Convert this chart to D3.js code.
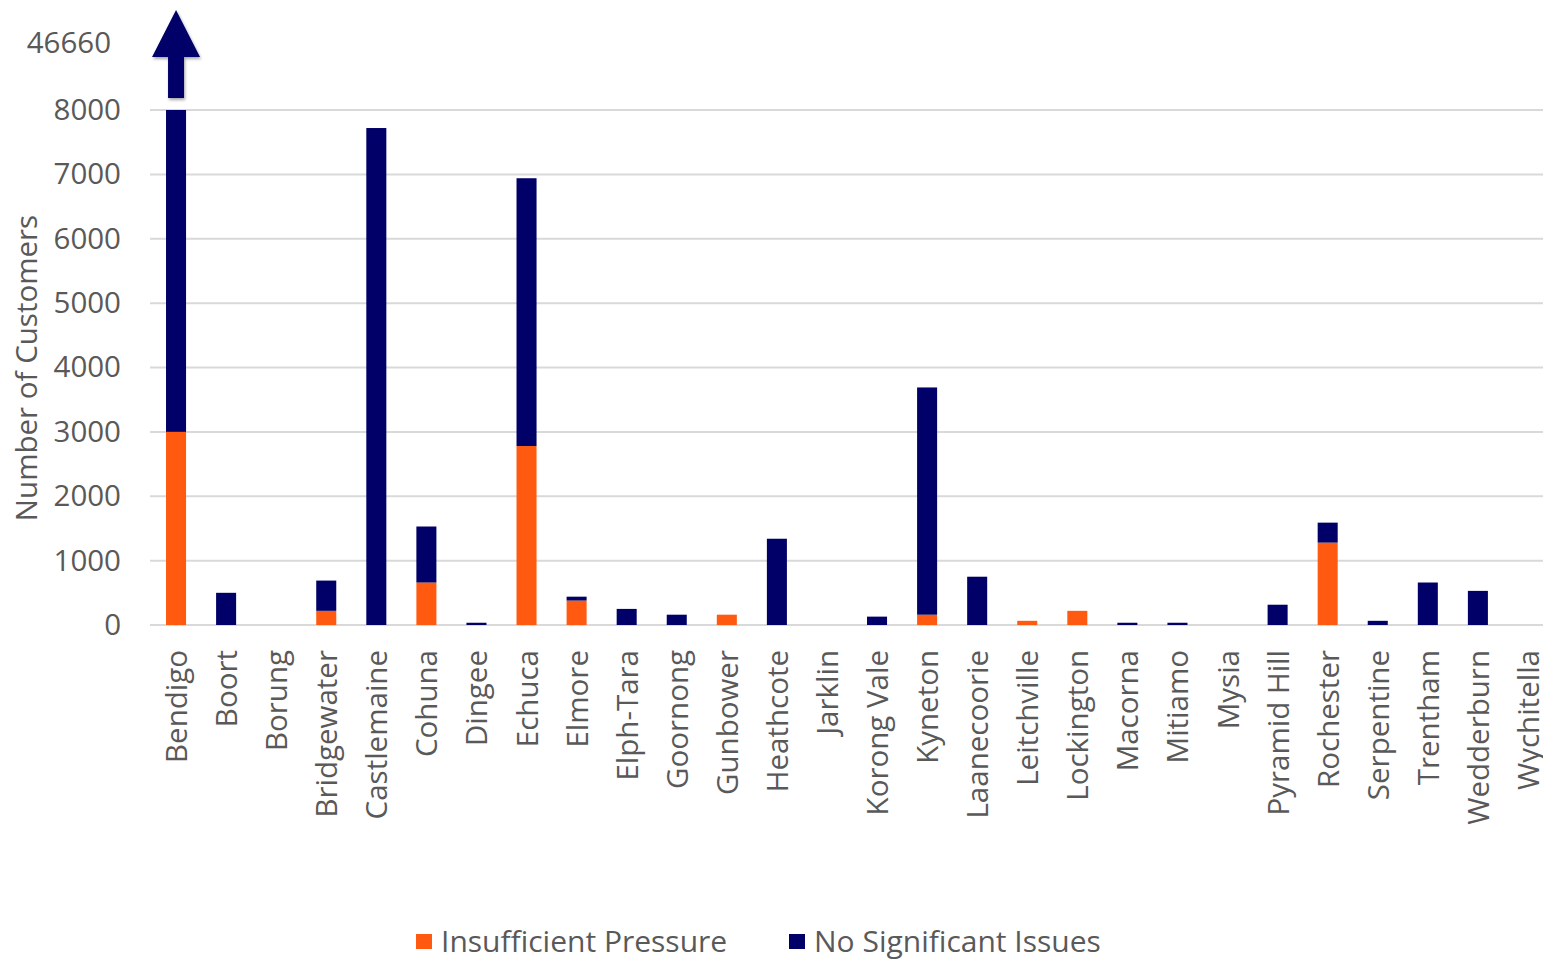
<!DOCTYPE html>
<html>
<head>
<meta charset="utf-8">
<script src="https://cdn.jsdelivr.net/npm/d3@7"></script>
<style>
  html, body { margin: 0; padding: 0; background: #fff; }
  svg { display: block; }
  text { font-family: "Open Sans", sans-serif; fill: #595959; }
</style>
</head>
<body>
<svg id="chart" width="1543" height="960"></svg>
<script>
// Towns served, in axis order
const towns = ["Bendigo","Boort","Borung","Bridgewater","Castlemaine","Cohuna","Dingee","Echuca","Elmore","Elph-Tara","Goornong","Gunbower","Heathcote","Jarklin","Korong Vale","Kyneton","Laanecoorie","Leitchville","Lockington","Macorna","Mitiamo","Mysia","Pyramid Hill","Rochester","Serpentine","Trentham","Wedderburn","Wychitella"];

// Customers with insufficient pressure, per town
const insufficientPressure = [3000,0,0,220,0,660,0,2780,380,0,0,160,0,0,0,160,0,65,220,0,0,0,0,1280,0,0,0,0];

// Customers with no significant issues, per town
const noSignificantIssues = [43660,500,0,470,7720,870,35,4160,60,250,160,0,1340,0,130,3530,750,0,0,35,35,0,315,310,65,660,530,0];

const yTicks = [0,1000,2000,3000,4000,5000,6000,7000,8000];
const seriesNames = ["Insufficient Pressure","No Significant Issues"];
const seriesColors = ["#FF5A10","#000068"];

const FONT = "29.5px";

const svg = d3.select("#chart");

const x = d3.scaleBand().domain(towns).range([151, 1553]).paddingInner(0.6).paddingOuter(0.3);
const y = d3.scaleLinear().domain([0, 8000]).range([625, 110]).clamp(true);

// Gridlines
svg.append("g")
  .selectAll("line")
  .data(yTicks)
  .join("line")
  .attr("x1", 150).attr("x2", 1543)
  .attr("y1", d => y(d)).attr("y2", d => y(d))
  .attr("stroke", "#d9d9d9").attr("stroke-width", 2);

// Y axis labels
const yAxis = svg.append("g")
  .attr("transform", "translate(121,0)")
  .call(d3.axisLeft(y).tickValues(yTicks).tickSize(0).tickPadding(0).tickFormat(d3.format("d")));
yAxis.select(".domain").remove();
yAxis.selectAll("text")
  .style("font-family", "Open Sans, sans-serif")
  .style("font-size", FONT)
  .attr("fill", "#595959");

// Stacked bars
const rows = towns.map((t, i) => ({ town: t, a: insufficientPressure[i], b: noSignificantIssues[i] }));
const stack = d3.stack().keys(["a", "b"])(rows);

svg.append("g")
  .selectAll("g")
  .data(stack)
  .join("g")
  .attr("fill", (d, i) => seriesColors[i])
  .selectAll("rect")
  .data(d => d.map(p => ({ p, town: p.data.town })))
  .join("rect")
  .attr("x", d => x(d.town))
  .attr("width", x.bandwidth())
  .attr("y", d => y(d.p[1]))
  .attr("height", d => Math.max(0, y(d.p[0]) - y(d.p[1])));

// Off-scale marker for the tallest town
const bigIdx = 0;
const bigTotal = insufficientPressure[bigIdx] + noSignificantIssues[bigIdx];
const cx = x(towns[bigIdx]) + x.bandwidth() / 2;

const defs = svg.append("defs");
const shadow = defs.append("filter").attr("id", "shadow").attr("x", "-50%").attr("y", "-50%").attr("width", "200%").attr("height", "200%");
shadow.append("feDropShadow").attr("dx", 1).attr("dy", 2).attr("stdDeviation", 1.5).attr("flood-color", "#000").attr("flood-opacity", 0.35);

const arrowPath = d3.path();
arrowPath.moveTo(cx - 8, 98);
arrowPath.lineTo(cx - 8, 57);
arrowPath.lineTo(cx - 24, 57);
arrowPath.lineTo(cx, 10);
arrowPath.lineTo(cx + 24, 57);
arrowPath.lineTo(cx + 8, 57);
arrowPath.lineTo(cx + 8, 98);
arrowPath.closePath();
svg.append("path").attr("d", arrowPath.toString()).attr("fill", seriesColors[1]).attr("filter", "url(#shadow)");

svg.append("text")
  .attr("x", 111).attr("y", 53)
  .attr("text-anchor", "end")
  .style("font-size", FONT)
  .text(bigTotal);

// Category labels
svg.append("g")
  .selectAll("text")
  .data(towns)
  .join("text")
  .attr("transform", d => `translate(${x(d) + x.bandwidth() / 2 + 11},650) rotate(-90)`)
  .attr("text-anchor", "end")
  .style("font-size", FONT)
  .text(d => d);

// Y axis title
svg.append("text")
  .attr("transform", "translate(37,368) rotate(-90)")
  .attr("text-anchor", "middle")
  .style("font-size", FONT)
  .text("Number of Customers");

// Legend
const legend = svg.append("g");
const legendX = [416, 789];
seriesNames.forEach((name, i) => {
  legend.append("rect").attr("x", legendX[i]).attr("y", 934).attr("width", 16).attr("height", 15).attr("fill", seriesColors[i]);
  legend.append("text").attr("x", legendX[i] + 25).attr("y", 952).style("font-size", "30px").text(name);
});
</script>
</body>
</html>
